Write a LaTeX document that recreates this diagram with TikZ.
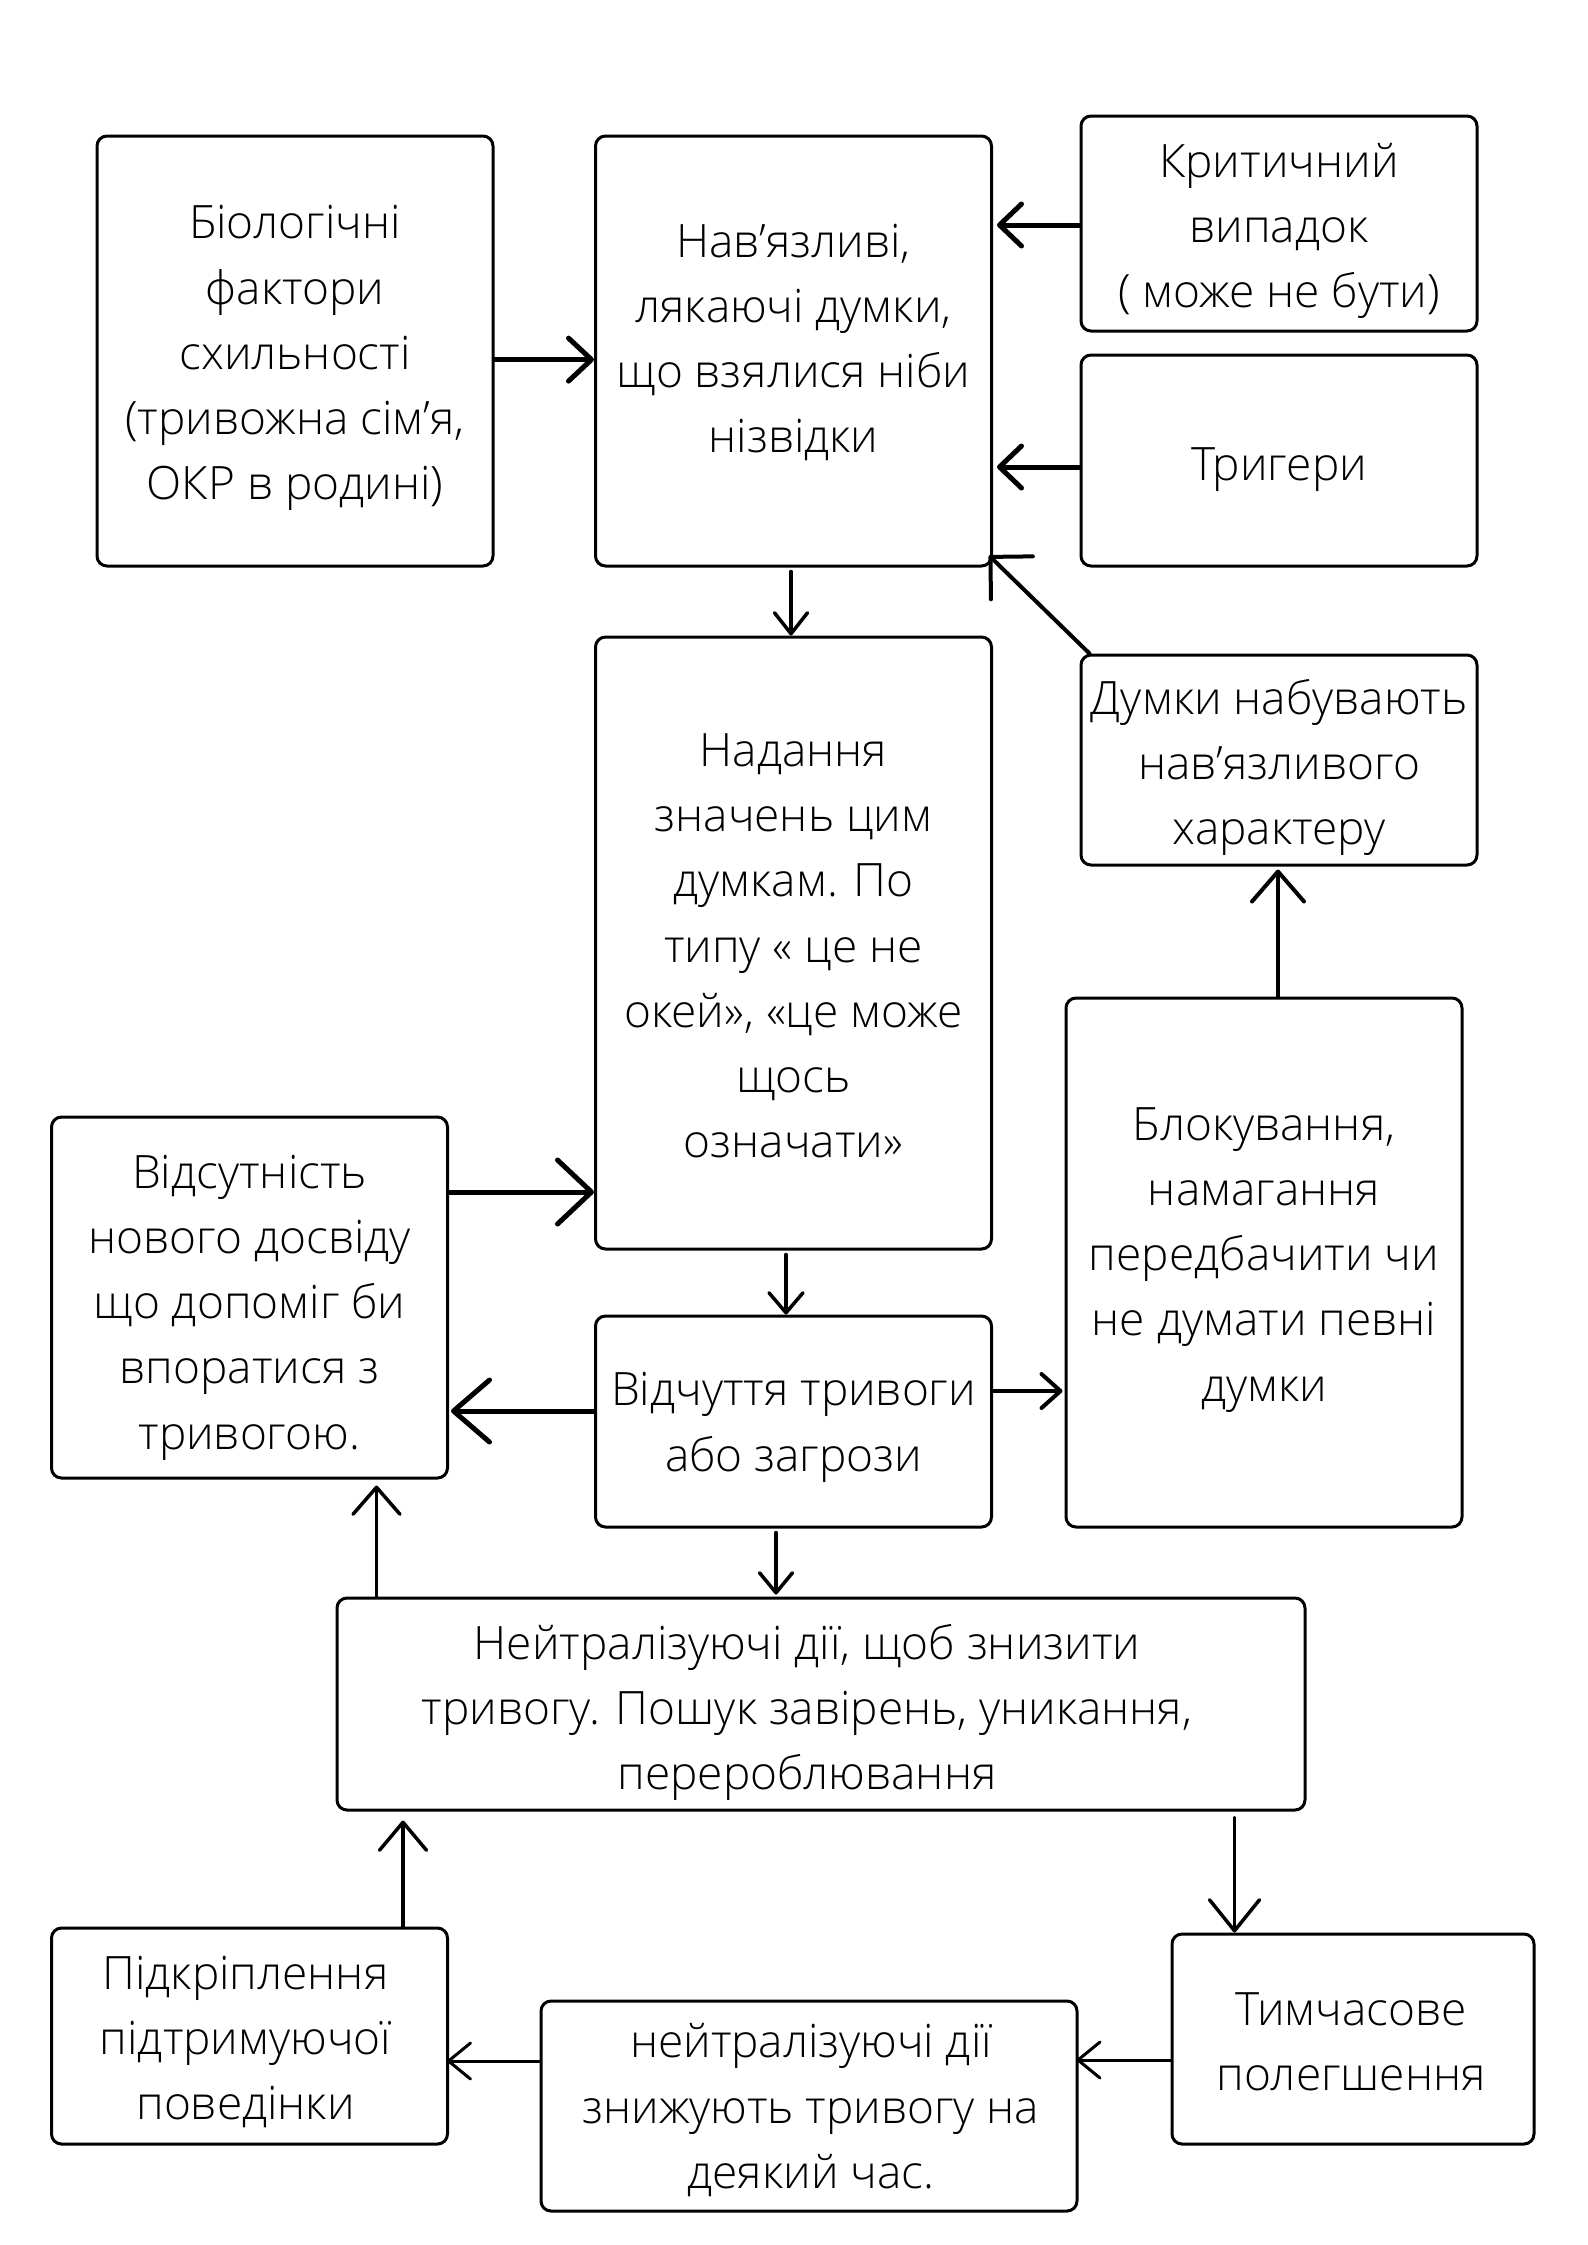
\documentclass[tikz,border=0pt]{standalone}
\usepackage{fontspec}
\setmainfont{Open Sans}[UprightFont={* Light}]
\usetikzlibrary{arrows.meta}
\tikzset{
  box/.style={draw, line width=1.5pt, rounded corners=5pt, inner sep=0pt},
  txt/.style={align=center, inner sep=0pt, font=\fontsize{23pt}{32.6pt}\selectfont},
  ar/.style n args={3}{line width=#1, line cap=round, -{Straight Barb[length=#2,width=#3,round]}}
}
\begin{document}
\begin{tikzpicture}[x=0.5pt,y=-0.5pt]
\fill[white] (0,0) rectangle (1587,2245);
\useasboundingbox (0,0) rectangle (1587,2245);
\node[box, minimum width=198pt, minimum height=215pt, label={[txt,yshift=-3.6pt]center:{Біологічні\\фактори\\схильності\\(тривожна сім’я,\\ОКР в родині)}}] (bio) at (295,351) {};
\node[box, minimum width=198pt, minimum height=215pt, label={[txt,yshift=4.3pt]center:{Нав’язливі,\\лякаючі думки,\\що взялися ніби\\нізвідки}}] (nav) at (793.5,351) {};
\node[box, minimum width=198pt, minimum height=107.5pt, label={[txt,yshift=-3.6pt]center:{Критичний\\випадок\\( може не бути)}}] (krit) at (1279,223.5) {};
\node[box, minimum width=198pt, minimum height=105.5pt, label={[txt,yshift=-4.3pt]center:{Тригери}}] (tryg) at (1279,460.5) {};
\node[box, minimum width=198pt, minimum height=105pt, label={[txt,yshift=-3.6pt]center:{Думки набувають\\нав’язливого\\характеру}}] (dumky) at (1279,760) {};
\node[box, minimum width=198pt, minimum height=306pt, label={[txt,yshift=-1.4pt]center:{Надання\\значень цим\\думкам. По\\типу « це не\\окей», «це може\\щось\\означати»}}] (nad) at (793.5,943) {};
\node[box, minimum width=198pt, minimum height=264.5pt, label={[txt,yshift=1.4pt]center:{Блокування,\\намагання\\передбачити чи\\не думати певні\\думки}}] (blok) at (1264,1262.5) {};
\node[box, minimum width=198pt, minimum height=180.5pt, label={[txt,yshift=-5pt]center:{Відсутність\\нового досвіду\\що допоміг би\\впоратися з\\тривогою.}}] (vids) at (249.5,1297.5) {};
\node[box, minimum width=198pt, minimum height=105.5pt, label={[txt,yshift=-2.9pt]center:{Відчуття тривоги\\або загрози}}] (vidch) at (793.5,1421.5) {};
\node[box, minimum width=484pt, minimum height=106pt, label={[txt,yshift=-4.3pt,xshift=-7pt]center:{Нейтралізуючі дії, щоб знизити\\тривогу. Пошук завірень, уникання,\\перероблювання}}] (neutr) at (821,1704) {};
\node[box, minimum width=198pt, minimum height=108pt, label={[txt,yshift=-2.9pt,xshift=-2pt]center:{Підкріплення\\підтримуючої\\поведінки}}] (pidkr) at (249.5,2036) {};
\node[box, minimum width=268pt, minimum height=105pt, label={[txt,yshift=-2.1pt,xshift=1pt]center:{нейтралізуючі дії\\знижують тривогу на\\деякий час.}}] (ndii) at (809,2106) {};
\node[box, minimum width=181pt, minimum height=105pt, label={[txt,yshift=-1.4pt,xshift=-1pt]center:{Тимчасове\\полегшення}}] (tym) at (1353,2039) {};

% arrows
\draw[ar={2.5pt}{11.5pt}{21.5pt}] ([yshift=-4.3pt]bio.east) -- ([yshift=-4.3pt]bio.east -| nav.west);
\draw[ar={2.5pt}{11pt}{21pt}] ([yshift=-0.75pt]krit.west) -- ([yshift=-0.75pt,xshift=2pt]krit.west -| nav.east);
\draw[ar={2.5pt}{11pt}{21pt}] ([yshift=-3.25pt]tryg.west) -- ([yshift=-3.25pt,xshift=2pt]tryg.west -| nav.east);
\draw[ar={2pt}{15pt}{30pt}] ([xshift=5pt]dumky.north west) -- ([shift={(-2pt,6pt)}]nav.south east);
\draw[ar={1.75pt}{10.5pt}{16.5pt}] ([xshift=-1.25pt,yshift=-2pt]nav.south) -- ([xshift=-1.25pt]nad.north);
\draw[ar={2.5pt}{17pt}{32pt}] ([yshift=52.75pt]vids.east) -- ([yshift=52.75pt]vids.east -| nad.west);
\draw[ar={1.75pt}{10pt}{17pt}] ([xshift=-3.75pt,yshift=-2pt]nad.south) -- ([xshift=-3.75pt]vidch.north);
\draw[ar={2.5pt}{18pt}{31pt}] ([yshift=5.25pt]vidch.west) -- ([yshift=5.25pt,xshift=1pt]vidch.west -| vids.east);
\draw[ar={2pt}{9.5pt}{17pt}] ([yshift=15.25pt]vidch.east) -- ([yshift=15.25pt,xshift=-1pt]vidch.east -| blok.west);
\draw[ar={2pt}{15pt}{26pt}] ([xshift=7pt]blok.north) -- ([xshift=7pt,yshift=-1.5pt]blok.north |- dumky.south);
\draw[ar={1.75pt}{10pt}{16.5pt}] ([xshift=-8.75pt,yshift=-2pt]vidch.south) -- ([xshift=-8.75pt,yshift=1pt]vidch.south |- neutr.north);
\draw[ar={1.75pt}{13.5pt}{23.5pt}] ([xshift=20.5pt]neutr.north west) -- ([xshift=20.5pt,yshift=-3pt]neutr.north west |- vids.south);
\draw[ar={1.75pt}{15.5pt}{25pt}] ([xshift=32pt,yshift=-3pt]tym.north west |- neutr.south) -- ([xshift=32pt]tym.north west);
\draw[ar={1.5pt}{11pt}{18pt}] ([yshift=-10.5pt]tym.west) -- ([yshift=-10.5pt,xshift=-1pt]tym.west -| ndii.east);
\draw[ar={1.5pt}{11pt}{18pt}] ([yshift=22.5pt]ndii.west) -- ([yshift=22.5pt,xshift=-1pt]ndii.west -| pidkr.east);
\draw[ar={1.75pt}{14pt}{23.5pt}] ([xshift=176.5pt]pidkr.north west) -- ([xshift=176.5pt,yshift=-4.5pt]pidkr.north west |- neutr.south);
\end{tikzpicture}
\end{document}
